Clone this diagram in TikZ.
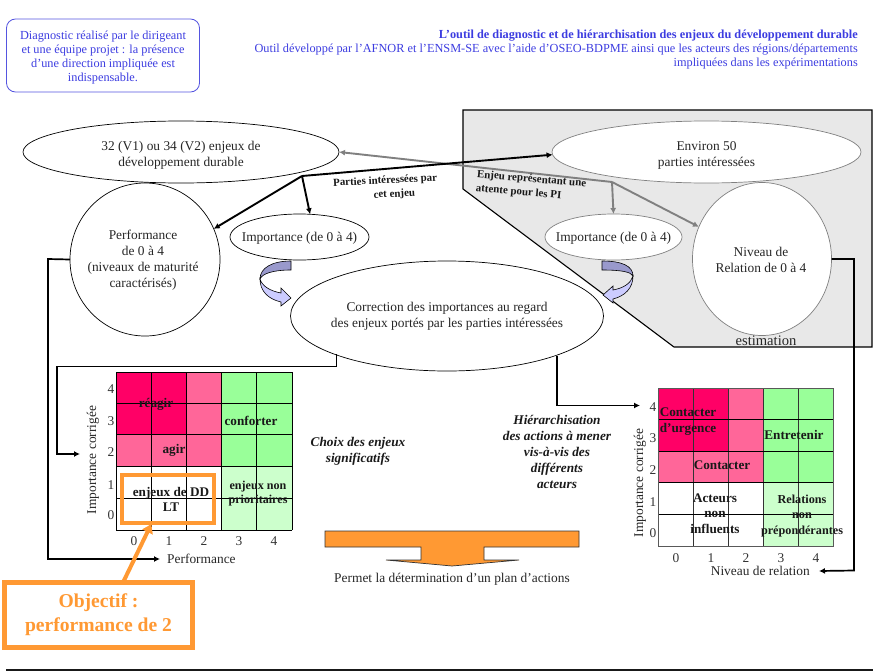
\documentclass[tikz,border=0pt]{standalone}
\usepackage{fontspec}
\setmainfont{Liberation Serif}
\usetikzlibrary{arrows.meta,shapes.geometric}
\definecolor{txtblue}{HTML}{3C3CE0}
\definecolor{boxblue}{HTML}{5555E0}
\definecolor{panel}{HTML}{E8E8E8}
\definecolor{rouge}{HTML}{FF0066}
\definecolor{rose}{HTML}{FF6699}
\definecolor{vert}{HTML}{99FF99}
\definecolor{vertclair}{HTML}{CCFFCC}
\definecolor{orangec}{HTML}{FF9933}
\definecolor{bandd}{HTML}{9999CC}
\definecolor{bandl}{HTML}{CCCCFF}
\definecolor{grisf}{HTML}{808080}
\tikzset{
  lab/.style={font=\fontsize{13.4}{16}\selectfont,align=center,inner sep=0pt,text=black!85},
  ell/.style={ellipse,draw=black,fill=white,line width=0.7pt,inner sep=0pt,outer sep=0pt},
  gell/.style={ell,draw=grisf},
  blk/.style={line width=1.9pt,draw=black,-{Latex[length=6pt,width=6pt]}},
  gry/.style={line width=1.9pt,draw=grisf,-{Latex[length=6pt,width=6pt]}},
  elbow/.style={line width=1.7pt,draw=black,-{Latex[length=6pt,width=6pt]}},
  cell/.style={font=\bfseries\fontsize{13.2}{15.5}\selectfont,inner sep=0pt,align=center,text=black!90},
  small/.style={font=\bfseries\fontsize{10.9}{14}\selectfont,inner sep=0pt,align=center,text=black!90},
  ital/.style={font=\bfseries\itshape\fontsize{13.3}{16}\selectfont,inner sep=0pt,align=center,text=black!90},
  blue/.style={font=\fontsize{12.3}{14}\selectfont,text=txtblue,inner sep=0pt},
  tick/.style={font=\fontsize{13.4}{14}\selectfont,inner sep=0pt,text=black!80},
  band/.style={draw=black,line width=0.6pt},
}
\begin{document}
\begin{tikzpicture}[x=1pt,y=-1pt]
\useasboundingbox (0,0) rectangle (873,672);
% panel
\draw[fill=panel,line width=1.1pt,draw=black] (463,110) -- (872,110) -- (872,347) -- (674,347) -- (463,189) -- cycle;
% top texts
\node[draw=boxblue,line width=0.8pt,rounded corners=9pt,minimum width=193pt,minimum height=73pt,inner sep=0pt,
      label={[blue,align=center,yshift=-2pt]center:{Diagnostic réalisé par le dirigeant\\et une équipe projet : la présence\\d’une direction impliquée est\\indispensable.}}] (diag) at (103,55.5) {};
\node[blue,align=right,anchor=north east] (title) at (858,29.5) {\textbf{L’outil de diagnostic et de hiérarchisation des enjeux du développement durable}\\Outil développé par l’AFNOR et l’ENSM-SE avec l’aide d’OSEO-BDPME ainsi que les acteurs des régions/départements\\impliquées dans les expérimentations};
% ellipses
\node[ell,minimum width=316pt,minimum height=62pt,label={[lab,yshift=-3pt]center:{32 (V1) ou 34 (V2) enjeux de\\développement durable}}] (enjeux) at (181,152) {};
\node[gell,minimum width=309pt,minimum height=62pt,label={[lab,yshift=-3pt]center:{Environ 50\\parties intéressées}}] (env) at (706.5,152) {};
\node[ell,minimum width=150pt,minimum height=153pt,label={[lab,yshift=-1pt,xshift=-2pt]center:{Performance\\de 0 à 4\\(niveaux de maturité\\caractérisés)}}] (perf) at (145,259.5) {};
\node[gell,minimum width=139pt,minimum height=153pt,label={[lab,xshift=-1pt,yshift=-1pt]center:{Niveau de\\Relation de 0 à 4}}] (niv) at (762,259) {};
\node[ell,minimum width=139pt,minimum height=46pt,label={[lab,yshift=-1pt]center:{Importance (de 0 à 4)}}] (imp1) at (299.5,237) {};
\node[gell,minimum width=137pt,minimum height=46pt,label={[lab,yshift=-1pt]center:{Importance (de 0 à 4)}}] (imp2) at (613.5,237) {};
\node[lab,font=\fontsize{14.6}{16}\selectfont] (estim) at (766,341) {estimation};
% elbow lines (below the correction ellipse)
\coordinate (c1) at (336.5,366.5);
\coordinate (c2) at (57,366.5);
\coordinate (c3) at (57,454);
\coordinate (c4) at (80,454);
\coordinate (d1) at (556.7,405.5);
\coordinate (d2) at (640,405.5);
\node[ell,minimum width=313pt,minimum height=110pt,label={[lab]center:{Correction des importances au regard\\des enjeux portés par les parties intéressées}}] (corr) at (447,316) {};
\draw[elbow] (c1 |- corr.199.5) -- (c1) -- (c2) -- (c3) -- (c4);
\draw[elbow] (d1 |- corr.340.5) -- (d1) -- (d2);
% curved arrows
\draw[band,fill=bandl] (260,279) .. controls (260,291) and (268,299) .. (281,302) -- (281,306) -- (291,298) -- (281,288) -- (281,293) .. controls (270,291) and (262,286) .. (260,279) -- cycle;
\draw[band,fill=bandd] (291,261) .. controls (272,261) and (260,268) .. (260,279) .. controls (262,274) and (272,270) .. (291,270) -- cycle;
\draw[band,fill=bandl] (633,276) .. controls (633,288) and (625,296) .. (613,299) -- (613,303) -- (603,295) -- (613,286) -- (613,290) .. controls (624,288) and (631,283) .. (633,276) -- cycle;
\draw[band,fill=bandd] (602,261) .. controls (622,261) and (633,266) .. (633,276) .. controls (631,272) and (622,270) .. (602,270) -- cycle;
% connectors
\coordinate (j1) at (302,176);
\coordinate (j2) at (612,182);
\draw[gry] (j2) -- (enjeux.east);
\draw[gry] (j2) -- (niv.153);
\draw[gry] (j2) -- (imp2.north);
\draw[blk] (j1) -- (env.181);
\draw[blk] (j1) -- (perf.24);
\draw[blk] (j1) -- (imp1.65);
\node[small,rotate=2.8] (lab1) at (385.5,188) {Parties intéressées par\\\hspace*{17pt}cet enjeu};
\node[small,rotate=-5,align=left] (lab2) at (531,186.5) {Enjeu représentant une\\attente pour les PI};
% left matrix
\fill[rouge] (116,372) rectangle (186.4,434.7);
\fill[rose] (186.4,372) rectangle (221.5,434.7);
\fill[rose] (116,434.7) rectangle (221.5,466.7);
\fill[vert] (221.5,372) rectangle (292,466.7);
\fill[vertclair] (221.5,466.7) rectangle (292,530);
\foreach \x in {116,151.5,186.5,221.5,256.7,292} \draw[line width=0.8pt] (\x,372) -- (\x,530);
\foreach \y in {372,403.3,434.7,466.7,498.3,530} \draw[line width=0.8pt] (116,\y) -- (292,\y);
\foreach \x/\t in {134/0,169/1,204/2,239/3,274/4} \node[tick] at (\x,541) {\t};
\foreach \y/\t in {389/4,421/3,452/2,485/1,515/0} \node[tick] at (111,\y) {\t};
\node[lab,rotate=90] (ylab1) at (93,460) {Importance corrigée};
\node[lab,anchor=west] (xlab1) at (167,559) {Performance};
\node[cell] (reagir) at (156,404) {réagir};
\node[cell] (agir) at (174,450) {agir};
\node[cell] (conforter) at (251,421) {conforter};
\node[draw=orangec,line width=4.5pt,minimum width=92pt,minimum height=48pt,inner sep=0pt,outer sep=0pt] (focus) at (168,499) {};
\node[cell] (enjdd) at (171,499.5) {enjeux de DD\\LT};
\node[small,font=\bfseries\fontsize{12.1}{14}\selectfont] (nonprio) at (258,494) {enjeux non\\prioritaires};
% right matrix
\fill[rouge] (658,388) rectangle (728,451);
\fill[rose] (728,388) rectangle (763,451);
\fill[rose] (658,451) rectangle (763,482.3);
\fill[vert] (763,388) rectangle (833,482.3);
\fill[vertclair] (763,482.3) rectangle (833,546);
\foreach \x in {693,728,763,798} \draw[line width=0.8pt,draw=black!80] (\x,388) -- (\x,546);
\foreach \y in {419.3,451,482.3,514.3} \draw[line width=0.8pt] (658,\y) -- (833,\y);
\draw[line width=0.8pt,draw=black!65] (658,388) rectangle (833,546);
\foreach \x/\t in {676/0,711/1,746/2,781/3,816/4} \node[tick] at (\x,558) {\t};
\foreach \y/\t in {407/4,438/3,470/2,502/1,533/0} \node[tick] at (653,\y) {\t};
\node[lab,rotate=90] (ylab2) at (640,483) {Importance corrigée};
\node[lab,anchor=east] (xlab2) at (810,571) {Niveau de relation};
\node[cell,align=left] (urg) at (688,421.5) {Contacter\\d’urgence};
\node[cell] (cont) at (722,465) {Contacter};
\node[cell] (entr) at (794,435) {Entretenir};
\node[cell] (act) at (715,513.5) {Acteurs\\non\\influents};
\node[cell,font=\bfseries\fontsize{12.2}{15.5}\selectfont] (rel) at (802,516) {Relations\\non\\prépondérantes};
% elbows to the matrices
\draw[elbow] (perf.west) -- (48,259) -- (48,559) -- ([xshift=-7pt]xlab1.west);
\draw[elbow] (niv.east) -- (854,259) -- (854,570.5) -- ([xshift=9pt]xlab2.east);
% italic labels
\node[ital] (choix) at (358,451) {Choix des enjeux\\significatifs};
\node[ital] (hier) at (557,452) {Hiérarchisation\\des actions à mener\\vis-à-vis des\\différents\\acteurs};
% big arrow
\draw[fill=orangec,draw=black!80,line width=0.7pt] (325,531) -- (579,531) -- (579,547) -- (484,547) -- (484,560) -- (519,560) -- (452,566) -- (386,560) -- (421,560) -- (421,547) -- (325,547) -- cycle;
\node[lab] (permet) at (452,579) {Permet la détermination d’un plan d’actions};
% orange
\node[draw=orangec,fill=white,line width=5pt,minimum width=188pt,minimum height=65pt,inner sep=0pt,outer sep=0pt,
      text=orangec,align=center,font=\bfseries\fontsize{19.6}{24}\selectfont] (obj) at (98.5,615) {Objectif :\\performance de 2};
\draw[draw=orangec,line width=4pt,-{Latex[length=10pt,width=13pt]}] (obj.53) -- (focus.236);
% rule
\coordinate (r1) at (6,670);
\coordinate (r2) at (873,670);
\draw[line width=2pt,draw=black!90] (r1) -- (r2);
\end{tikzpicture}
\end{document}
